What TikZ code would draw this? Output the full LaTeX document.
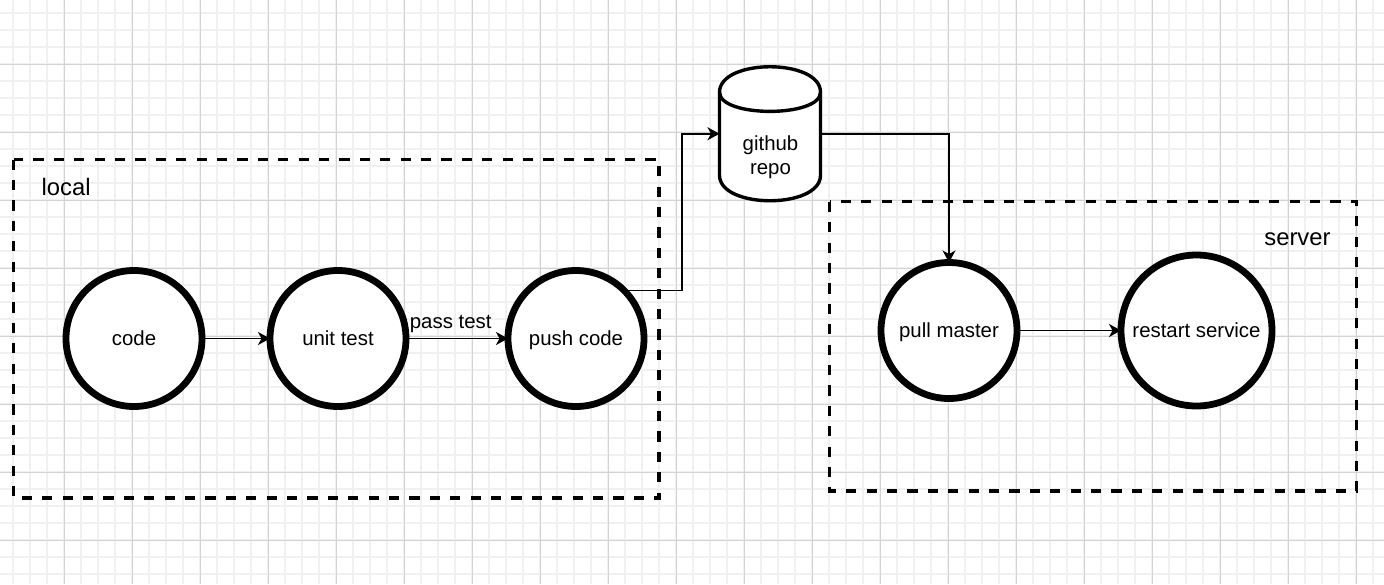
\documentclass[tikz,border=0pt]{standalone}
\usepackage{fontspec}
\setmainfont{Liberation Sans}
\usetikzlibrary{arrows.meta}

\definecolor{gridminor}{RGB}{240,240,240}
\definecolor{gridmajor}{RGB}{210,210,210}

% text sizes used in the diagram
\newcommand\dgmfont{\fontsize{20.4}{24.5}\selectfont}
\newcommand\grpfont{\fontsize{23.8}{28}\selectfont}

\begin{document}
\begin{tikzpicture}[x=1pt,y=-1pt,
  minorline/.style={draw=gridminor, line width=1.4pt},
  majorline/.style={draw=gridmajor, line width=0.9pt},
  groupbox/.style={draw=black, line width=3.4pt, dash pattern=on 10.2pt off 10.2pt},
  grouplabel/.style={font=\grpfont, inner sep=0pt},
  stepnode/.style={circle, draw=black, fill=white, line width=6.8pt,
    outer sep=0pt, inner sep=0pt, minimum size=136pt,
    font=\dgmfont, text height=14.6pt, text depth=0pt},
  flow/.style={draw=black, line width=1.7pt,
    -{Stealth[length=12pt,width=13pt,inset=3.5pt]}},
  edgelabel/.style={font=\dgmfont, inner sep=0pt},
]
% canvas
\path[use as bounding box, fill=white] (0,0) rectangle (1384,584);

% background grid: fine lines every 17, stronger lines every 68
\foreach \i in {0,...,81} {
  \draw[minorline] ({13+17*\i},0) -- ({13+17*\i},584);
}
\foreach \j in {0,...,33} {
  \draw[minorline] (0,{13+17*\j}) -- (1384,{13+17*\j});
}
\foreach \i in {0,...,19} {
  \draw[majorline] ({64+68*\i},0) -- ({64+68*\i},584);
}
\foreach \j in {0,...,7} {
  \draw[majorline] (0,{64+68*\j}) -- (1384,{64+68*\j});
}

% groups
\draw[groupbox] (13.5,159.5) rectangle (659,498);
\node[grouplabel, anchor=base west] (locallbl) at (41.5,195.3) {local};

\draw[groupbox] (829.5,201.7) rectangle (1356.7,491);
\node[grouplabel, anchor=base east] (serverlbl) at (1330.7,245) {server};

% steps on the local machine
\node[stepnode] (code) at (134,338.5) {code};
\node[stepnode] (unit) at (338,338.5) {unit test};
\node[stepnode] (push) at (576,338.5) {push code};

% repository (cylinder)
\node[minimum width=101pt, minimum height=134pt, inner sep=0pt, outer sep=0pt] (repo) at (770,133.75) {};
\draw[line width=3.4pt, fill=white]
  (719.5,92.25) .. controls (719.5,58.25) and (820.5,58.25) .. (820.5,92.25)
  -- (820.5,175.25) .. controls (820.5,209.25) and (719.5,209.25) .. (719.5,175.25)
  -- cycle;
\draw[line width=3.4pt]
  (719.5,92.25) .. controls (719.5,117.75) and (820.5,117.75) .. (820.5,92.25);
\node[font=\dgmfont, align=center, inner sep=0pt] (repotext) at (770.5,157) {github\\repo};

% steps on the server
\node[stepnode] (pull) at (949,330.5) {pull master};
\node[stepnode, minimum size=151pt] (restart) at (1196.5,330.5) {restart service};

% connectors
\draw[flow] (code) -- (unit);
\draw[flow] (unit) -- (push);
\node[edgelabel, anchor=base] (passlbl) at (450.7,328.5) {pass test};

\coordinate (jogx) at (682,0);
\draw[flow] (push.45) -| (repo.west -| jogx) -- (repo.west);
\draw[flow] (repo.east) -| (pull.north);
\draw[flow] (pull) -- (restart);
\end{tikzpicture}
\end{document}
